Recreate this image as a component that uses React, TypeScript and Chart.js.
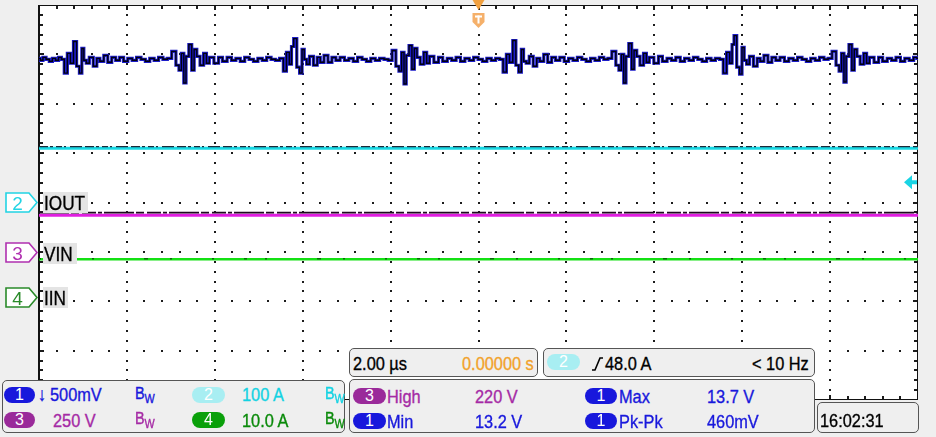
import React, { useEffect, useRef } from 'react';
import { Chart, registerables } from 'chart.js';

Chart.register(...registerables);

// ---- scope setup ----
const US_PER_DIV = 2;
const X_DIVS = 10;
const Y_DIVS = 8;
const CH1_SCREEN_TOP_V = 14.0;
const CH1_VOLTS_PER_DIV = 0.5;
const TRIGGER_POS_US = 10;
const TRIGGER_LEVEL_DIV = 0.41;

// ---- channel 1 (V) vs time (µs) ----
const CH1_POINTS: [number, number][] = [
  [0, 13.46], [0.06, 13.44], [0.12, 13.47], [0.2, 13.45], [0.27, 13.43], [0.34, 13.46], [0.41, 13.44], [0.48, 13.47], [0.54, 13.45],
  [0.61, 13.31], [0.68, 13.51], [0.75, 13.41], [0.82, 13.63], [0.89, 13.38], [0.95, 13.31], [1.0, 13.56], [1.04, 13.44], [1.11, 13.41], [1.18, 13.47], [1.29, 13.38], [1.34, 13.46], [1.43, 13.43], [1.52, 13.49], [1.61, 13.42], [1.7, 13.47],
  [1.79, 13.44], [1.88, 13.47], [1.97, 13.43], [2.07, 13.46], [2.17, 13.44], [2.27, 13.47], [2.37, 13.45], [2.47, 13.43], [2.57, 13.46], [2.67, 13.44], [2.77, 13.47], [2.87, 13.45], [2.97, 13.46],
  [3.07, 13.53], [3.16, 13.39], [3.21, 13.34], [3.27, 13.51], [3.32, 13.21], [3.37, 13.48], [3.45, 13.6], [3.5, 13.34], [3.56, 13.55], [3.62, 13.48], [3.71, 13.39], [3.78, 13.51], [3.84, 13.41], [3.91, 13.47], [4.05, 13.41], [4.12, 13.47], [4.23, 13.43],
  [4.33, 13.47], [4.43, 13.44], [4.53, 13.46], [4.63, 13.43], [4.73, 13.47], [4.83, 13.45], [4.93, 13.43], [5.03, 13.46], [5.13, 13.44], [5.23, 13.47], [5.33, 13.45], [5.43, 13.44], [5.52, 13.46],
  [5.6, 13.33], [5.66, 13.52], [5.73, 13.4], [5.76, 13.58], [5.83, 13.66], [5.9, 13.37], [5.96, 13.31], [6.01, 13.55], [6.06, 13.45], [6.12, 13.4], [6.19, 13.48], [6.3, 13.39], [6.36, 13.47], [6.44, 13.42], [6.53, 13.49], [6.62, 13.42], [6.71, 13.47],
  [6.8, 13.44], [6.9, 13.47], [7.0, 13.44], [7.1, 13.46], [7.2, 13.43], [7.3, 13.47], [7.4, 13.45], [7.5, 13.43], [7.6, 13.46], [7.7, 13.44], [7.8, 13.46], [7.9, 13.45], [7.99, 13.44],
  [8.08, 13.54], [8.16, 13.38], [8.22, 13.33], [8.28, 13.52], [8.33, 13.2], [8.38, 13.49], [8.46, 13.59], [8.51, 13.35], [8.57, 13.56], [8.63, 13.47], [8.72, 13.4], [8.79, 13.52], [8.85, 13.41], [8.92, 13.48], [9.05, 13.42], [9.13, 13.47], [9.24, 13.43],
  [9.34, 13.46], [9.44, 13.44], [9.54, 13.47], [9.64, 13.43], [9.74, 13.46], [9.84, 13.44], [9.94, 13.47], [10.04, 13.45], [10.14, 13.43], [10.24, 13.46], [10.34, 13.44], [10.44, 13.46], [10.52, 13.45],
  [10.6, 13.32], [10.67, 13.5], [10.74, 13.42], [10.82, 13.64], [10.88, 13.39], [10.95, 13.32], [11.0, 13.55], [11.05, 13.43], [11.12, 13.41], [11.19, 13.48], [11.3, 13.38], [11.35, 13.46], [11.44, 13.43], [11.53, 13.5], [11.62, 13.42], [11.71, 13.47],
  [11.8, 13.44], [11.9, 13.47], [12.0, 13.43], [12.1, 13.46], [12.2, 13.44], [12.3, 13.47], [12.4, 13.45], [12.5, 13.43], [12.6, 13.46], [12.7, 13.44], [12.8, 13.47], [12.9, 13.45], [12.99, 13.46],
  [13.08, 13.53], [13.17, 13.39], [13.22, 13.34], [13.28, 13.5], [13.33, 13.21], [13.38, 13.48], [13.46, 13.61], [13.51, 13.35], [13.57, 13.54], [13.63, 13.48], [13.72, 13.39], [13.79, 13.51], [13.85, 13.42], [13.92, 13.47], [14.06, 13.41], [14.13, 13.48], [14.24, 13.43],
  [14.34, 13.46], [14.44, 13.44], [14.54, 13.47], [14.64, 13.43], [14.74, 13.46], [14.84, 13.44], [14.94, 13.47], [15.04, 13.45], [15.14, 13.43], [15.24, 13.46], [15.34, 13.44], [15.44, 13.46], [15.53, 13.45],
  [15.61, 13.31], [15.68, 13.52], [15.75, 13.41], [15.79, 13.6], [15.84, 13.69], [15.91, 13.37], [15.97, 13.3], [16.02, 13.57], [16.07, 13.44], [16.13, 13.4], [16.2, 13.48], [16.31, 13.38], [16.37, 13.46], [16.45, 13.43], [16.54, 13.49], [16.63, 13.42], [16.72, 13.47],
  [16.81, 13.44], [16.91, 13.47], [17.01, 13.43], [17.11, 13.46], [17.21, 13.44], [17.31, 13.47], [17.41, 13.45], [17.51, 13.43], [17.61, 13.46], [17.71, 13.44], [17.81, 13.47], [17.91, 13.45], [18.0, 13.46],
  [18.09, 13.53], [18.18, 13.39], [18.23, 13.33], [18.29, 13.51], [18.34, 13.22], [18.39, 13.48], [18.47, 13.6], [18.52, 13.34], [18.58, 13.55], [18.64, 13.48], [18.73, 13.4], [18.8, 13.51], [18.86, 13.41], [18.93, 13.47], [19.07, 13.42], [19.14, 13.47], [19.25, 13.43],
  [19.35, 13.46], [19.45, 13.44], [19.55, 13.47], [19.65, 13.43], [19.75, 13.46], [19.85, 13.44], [19.95, 13.47], [20, 13.46],
];

// ---- channels 2-4 (screen divisions from centre) ----
const CH2_LEVEL_DIV = 1.1;
const CH2_DOTS_DIV = 1.13;
const CH3_LEVEL_DIV = -0.26;
const CH3_DARK_DIV = -0.205;
const CH4_LEVEL_DIV = -1.15;

const FONT = "'Liberation Sans', Arial, Helvetica, sans-serif";
const SX = 0.86;

const BLUE = '#1818dc';
const MAG = '#a52aa5';
const MAG_PILL = '#9a2a9a';
const CYAN = '#12d2e2';
const CYAN_PILL = '#a8eef2';
const GREEN = '#0a8a0a';
const GREEN_PILL = '#0aa00a';
const ORANGE = '#f2a22a';

const flat = (lvl: number) => [{ x: 0, y: lvl }, { x: X_DIVS * US_PER_DIV, y: lvl }];

const scopePlugin = {
  id: 'scope',
  beforeDraw(chart: any) {
    const { ctx, chartArea: a } = chart;
    ctx.save();
    ctx.fillStyle = '#efefef';
    ctx.fillRect(0, 0, chart.width, chart.height);
    ctx.fillStyle = '#ffffff';
    ctx.fillRect(a.left, a.top, a.right - a.left, a.bottom - a.top);
    ctx.restore();
  },
  beforeDatasetsDraw(chart: any) {
    const { ctx, chartArea: a, scales } = chart;
    const xs = scales.x;
    const ys = scales.yd;
    const yMin = -Y_DIVS / 2;
    ctx.save();
    ctx.fillStyle = '#1c1c1c';
    for (let i = 1; i < X_DIVS; i++) {
      const px = Math.round(xs.getPixelForValue(i * US_PER_DIV));
      for (let j = 1; j < Y_DIVS * 5; j++) {
        const py = Math.round(ys.getPixelForValue(yMin + j * 0.2));
        ctx.fillRect(px - 1, py - 1, 2, 2);
      }
    }
    for (let j = 1; j < Y_DIVS; j++) {
      const py = Math.round(ys.getPixelForValue(yMin + j));
      for (let i = 1; i < X_DIVS * 5; i++) {
        const px = Math.round(xs.getPixelForValue(i * US_PER_DIV / 5));
        ctx.fillRect(px - 1, py - 1, 2, 2);
      }
    }
    for (let i = 1; i < X_DIVS * 5; i++) {
      const px = Math.round(xs.getPixelForValue(i * US_PER_DIV / 5));
      const len = i % 5 === 0 ? 5 : 4;
      ctx.fillRect(px - 1, a.top, 2, len);
      ctx.fillRect(px - 1, a.bottom - len, 2, len);
    }
    for (let j = 1; j < Y_DIVS * 5; j++) {
      const py = Math.round(ys.getPixelForValue(yMin + j * 0.2));
      const len = j % 5 === 0 ? 5 : 4;
      ctx.fillRect(a.left, py - 1, len, 2);
      ctx.fillRect(a.right - len, py - 1, len, 2);
    }
    ctx.fillStyle = '#111';
    ctx.fillRect(a.left - 1, a.top, 2, a.bottom - a.top);
    ctx.fillRect(a.left, a.top, a.right - a.left, 1);
    ctx.fillRect(a.right - 1, a.top, 1, a.bottom - a.top);
    ctx.fillRect(a.left, a.bottom - 1, a.right - a.left, 1);
    ctx.restore();
  },
  afterDatasetsDraw(chart: any) {
    const { ctx, chartArea: a, scales } = chart;
    const cx = scales.x.getPixelForValue(TRIGGER_POS_US);
    ctx.save();
    ctx.fillStyle = '#f0a040';
    ctx.beginPath();
    ctx.moveTo(cx - 6, 0);
    ctx.lineTo(cx + 6, 0);
    ctx.lineTo(cx, 10);
    ctx.closePath();
    ctx.fill();
    ctx.fillStyle = '#f5b06a';
    ctx.beginPath();
    ctx.moveTo(cx - 6, 13);
    ctx.lineTo(cx + 6, 13);
    ctx.lineTo(cx + 6, 22);
    ctx.lineTo(cx, 28);
    ctx.lineTo(cx - 6, 22);
    ctx.closePath();
    ctx.fill();
    ctx.fillStyle = '#ffffff';
    ctx.fillRect(cx - 3.5, 15.5, 7, 2);
    ctx.fillRect(cx - 1, 15.5, 2, 8);
    const ty = scales.yd.getPixelForValue(TRIGGER_LEVEL_DIV);
    const rx = a.right - 14;
    ctx.fillStyle = '#19d4e4';
    ctx.beginPath();
    ctx.moveTo(rx, ty);
    ctx.lineTo(rx + 8, ty - 7);
    ctx.lineTo(rx + 8, ty + 7);
    ctx.closePath();
    ctx.fill();
    ctx.fillRect(rx + 7, ty - 2, 6, 4);
    ctx.restore();
  },
};

const TXT_STYLE = { fontFamily: FONT, whiteSpace: 'nowrap' as const, WebkitTextStroke: '0.35px currentColor' };

function Txt({ x, y, color = '#000', size = 19, children }: any) {
  return (
    <div style={{ ...TXT_STYLE, position: 'absolute', left: x, top: y, color, fontSize: size, lineHeight: `${size}px`, transform: `scaleX(${SX})`, transformOrigin: '0 0' }}>
      {children}
    </div>
  );
}

function Pill({ x, y, w = 32, h = 16, bg, children }: any) {
  return (
    <div style={{ position: 'absolute', left: x, top: y, width: w, height: h, borderRadius: h / 2, background: bg, color: '#fff', fontFamily: FONT, fontSize: 16, lineHeight: `${h}px`, textAlign: 'center' }}>
      {children}
    </div>
  );
}

function Bw({ x, y, color }: any) {
  return (
    <div style={{ ...TXT_STYLE, position: 'absolute', left: x, top: y, color, fontSize: 16, lineHeight: '16px', transform: 'scaleX(0.9)', transformOrigin: '0 0' }}>
      B<span style={{ fontSize: 12, position: 'relative', top: 4 }}>W</span>
    </div>
  );
}

function Box({ x, y, w, h }: any) {
  return <div style={{ position: 'absolute', left: x, top: y, width: w, height: h, background: '#efefef', border: '1px solid #555', borderRadius: 5, boxSizing: 'border-box' }} />;
}

function Marker({ y, color, n }: any) {
  return (
    <svg style={{ position: 'absolute', left: 5, top: y }} width={34} height={22}>
      <polygon points="1,1 24,1 32,10.5 24,20 1,20" fill="#fff" stroke={color} strokeWidth={1.6} />
      <text x={12.5} y={17.5} textAnchor="middle" fontFamily={FONT} fontSize={19} fill={color}>{n}</text>
    </svg>
  );
}

function Label({ x, y, w, h, text }: any) {
  return (
    <>
      <div style={{ position: 'absolute', left: x, top: y, width: w, height: h, background: '#e4e4e4' }} />
      <Txt x={x + 1} y={y + 1} size={20}>{text}</Txt>
    </>
  );
}

export default function App() {
  const ref = useRef<HTMLCanvasElement>(null);
  useEffect(() => {
    const ch1 = CH1_POINTS.map(([x, y]) => ({ x, y }));
    // Chart.js draws the first dataset last (on top), so overlays come first.
    const chart = new Chart(ref.current as HTMLCanvasElement, {
      type: 'line',
      data: {
        datasets: [
          { data: ch1, borderColor: '#000010', borderWidth: 1.4, yAxisID: 'y1', stepped: 'middle' },
          { data: ch1, borderColor: '#1c1cc8', borderWidth: 3.2, yAxisID: 'y1', stepped: 'middle' },
          { data: flat(CH2_DOTS_DIV), borderColor: '#1a2a3a', borderWidth: 1.3, borderDash: [9, 2, 3, 3, 6, 2, 2, 4, 12, 3], yAxisID: 'yd' },
          { data: flat(CH2_LEVEL_DIV), borderColor: '#18d8e4', borderWidth: 3, yAxisID: 'yd' },
          { data: flat(CH3_DARK_DIV), borderColor: '#200820', borderWidth: 1.8, borderDash: [30, 2, 8, 3, 14, 2, 4, 2], yAxisID: 'yd' },
          { data: flat(CH3_LEVEL_DIV), borderColor: '#e01ee0', borderWidth: 3, yAxisID: 'yd' },
          { data: flat(CH4_LEVEL_DIV + 0.01), borderColor: '#0a6a0a', borderWidth: 1.4, borderDash: [2, 30, 3, 18, 2, 50, 4, 22, 2, 40], yAxisID: 'yd' },
          { data: flat(CH4_LEVEL_DIV), borderColor: '#14e014', borderWidth: 2.4, yAxisID: 'yd' },
        ],
      },
      options: {
        animation: false,
        responsive: false,
        events: [],
        layout: { padding: { left: 39, top: 5, right: 18, bottom: 37 } },
        plugins: { legend: { display: false }, tooltip: { enabled: false }, title: { display: false } },
        elements: { point: { radius: 0 }, line: { tension: 0 } },
        scales: {
          x: { type: 'linear', min: 0, max: X_DIVS * US_PER_DIV, display: false },
          yd: { type: 'linear', min: -Y_DIVS / 2, max: Y_DIVS / 2, display: false },
          y1: { type: 'linear', min: CH1_SCREEN_TOP_V - Y_DIVS * CH1_VOLTS_PER_DIV, max: CH1_SCREEN_TOP_V, display: false },
        },
      } as any,
      plugins: [scopePlugin as any],
    });
    return () => chart.destroy();
  }, []);

  return (
    <div style={{ position: 'absolute', left: 0, top: 0, width: 936, height: 437, overflow: 'hidden', background: '#efefef' }}>
      <canvas ref={ref} width={936} height={437} style={{ position: 'absolute', left: 0, top: 0 }} />

      <Marker y={192} color="#22d4e4" n="2" />
      <Marker y={242} color="#b030b0" n="3" />
      <Marker y={287} color="#2a8a2a" n="4" />
      <Label x={43} y={192} w={45} h={21} text="IOUT" />
      <Label x={43} y={243} w={34} h={21} text="VIN" />
      <Label x={43} y={287} w={25} h={21} text="IIN" />

      <Box x={2} y={380} w={343} h={53} />
      <Pill x={4} y={387} w={31} bg={BLUE}>1</Pill>
      <Txt x={38} y={385} color={BLUE}>↓</Txt>
      <Txt x={50} y={385} color={BLUE}>500mV</Txt>
      <Bw x={135} y={386} color={BLUE} />
      <Pill x={192} y={387} w={33} bg={CYAN_PILL}>2</Pill>
      <Txt x={242} y={385} color={CYAN}>100 A</Txt>
      <Bw x={325} y={386} color={CYAN} />
      <Pill x={4} y={412} w={31} bg={MAG_PILL}>3</Pill>
      <Txt x={53} y={411} color={MAG}>250 V</Txt>
      <Bw x={135} y={411} color={MAG} />
      <Pill x={192} y={412} w={33} bg={GREEN_PILL}>4</Pill>
      <Txt x={242} y={411} color={GREEN}>10.0 A</Txt>
      <Bw x={325} y={411} color={GREEN} />

      <Box x={349} y={348} w={189} h={29} />
      <Txt x={353} y={354} color="#000">2.00 µs</Txt>
      <Txt x={462} y={354} color={ORANGE}>0.00000 s</Txt>
      <Box x={543} y={348} w={272} h={29} />
      <Pill x={547} y={354} w={33} bg={CYAN_PILL}>2</Pill>
      <svg style={{ position: 'absolute', left: 591, top: 356 }} width={13} height={16}>
        <polyline points="1,14 4,14 9,2 12,2" fill="none" stroke="#000" strokeWidth={1.6} />
      </svg>
      <Txt x={605} y={354} color="#000">48.0 A</Txt>
      <Txt x={752} y={354} color="#000">&lt; 10 Hz</Txt>

      <Box x={349} y={379} w={466} h={54} />
      <Pill x={353} y={388} w={33} bg={MAG_PILL}>3</Pill>
      <Txt x={387} y={387} color={MAG}>High</Txt>
      <Txt x={475} y={387} color={MAG}>220 V</Txt>
      <Pill x={585} y={388} w={32} bg={BLUE}>1</Pill>
      <Txt x={619} y={387} color={BLUE}>Max</Txt>
      <Txt x={707} y={387} color={BLUE}>13.7 V</Txt>
      <Pill x={353} y={413} w={33} bg={BLUE}>1</Pill>
      <Txt x={387} y={412} color={BLUE}>Min</Txt>
      <Txt x={475} y={412} color={BLUE}>13.2 V</Txt>
      <Pill x={585} y={413} w={32} bg={BLUE}>1</Pill>
      <Txt x={619} y={412} color={BLUE}>Pk-Pk</Txt>
      <Txt x={707} y={412} color={BLUE}>460mV</Txt>

      <Box x={817} y={402} w={102} h={31} />
      <Txt x={820} y={411} color="#000">16:02:31</Txt>
    </div>
  );
}
